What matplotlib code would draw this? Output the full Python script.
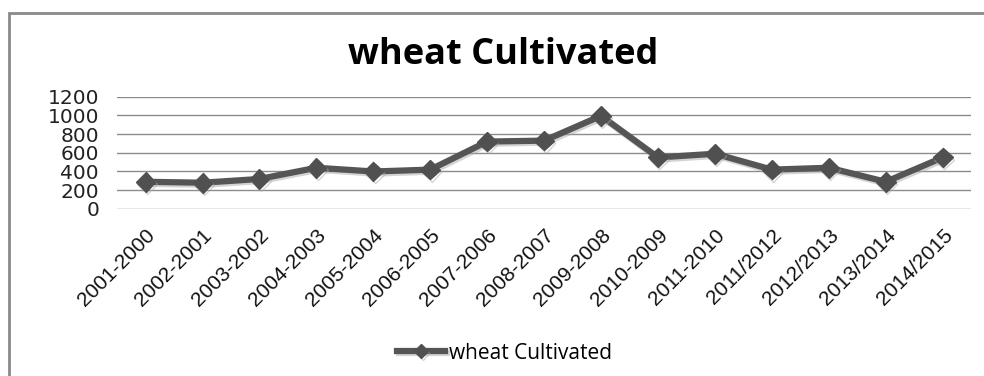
import matplotlib
matplotlib.use("Agg")
import matplotlib.pyplot as plt
import matplotlib.patheffects as pe
from matplotlib.patches import Rectangle

# Данные
seasons = ["2001-2000", "2002-2001", "2003-2002", "2004-2003", "2005-2004",
           "2006-2005", "2007-2006", "2008-2007", "2009-2008", "2010-2009",
           "2011-2010", "2011/2012", "2012/2013", "2013/2014", "2014/2015"]
cultivated = [290, 280, 320, 440, 400, 420, 720, 730, 995, 550,
              590, 420, 440, 290, 550]
y_ticks = [0, 200, 400, 600, 800, 1000, 1200]

fig = plt.figure(figsize=(9.84, 3.76), dpi=100)
ax = fig.add_axes([0.119, 0.4434, 0.868, 0.2995])

# Рамка вокруг всей диаграммы
fig.patches.append(Rectangle((9 / 984, -0.1), 1.2, 1 - 13 / 376 + 0.1,
                             transform=fig.transFigure, fill=False,
                             edgecolor="#8a8a8a", linewidth=2))

x = range(len(seasons))
shadow = [pe.SimpleLineShadow(offset=(1, -1.5), shadow_color="#aaaaaa", alpha=0.5), pe.Normal()]
ax.plot(x, cultivated, color="#555555", linewidth=4.5, marker="D",
        markersize=10, markerfacecolor="#505050", markeredgecolor="#505050",
        label="wheat Cultivated", path_effects=shadow)

ax.set_xlim(-0.5, len(seasons) - 0.5)
ax.set_ylim(-4, 1200)
ax.set_yticks(y_ticks)
ax.set_yticklabels([str(v) for v in y_ticks], fontsize=14.5, family="DejaVu Sans", color="#222222")
ax.set_xticks(list(x))
ax.set_xticklabels(seasons, rotation=45, ha="right", rotation_mode="anchor",
                   fontsize=15, family="Liberation Sans", color="#111111")
ax.tick_params(axis="both", length=0)
ax.tick_params(axis="y", pad=13)
ax.tick_params(axis="x", pad=12)
ax.grid(axis="y", color="#8c8c8c", linewidth=1)
ax.set_axisbelow(True)
for s in ax.spines.values():
    s.set_visible(False)

fig.text(0.511, 0.855, "wheat Cultivated", ha="center", va="center",
         fontsize=26, fontweight="bold", family="Open Sans")

fig.legend(loc="center", bbox_to_anchor=(0.513, 0.061), frameon=False,
           prop={"family": "Open Sans", "size": 15}, handlelength=2.3,
           handletextpad=0.2, markerscale=0.7)

fig.savefig("out.png", dpi=100)
